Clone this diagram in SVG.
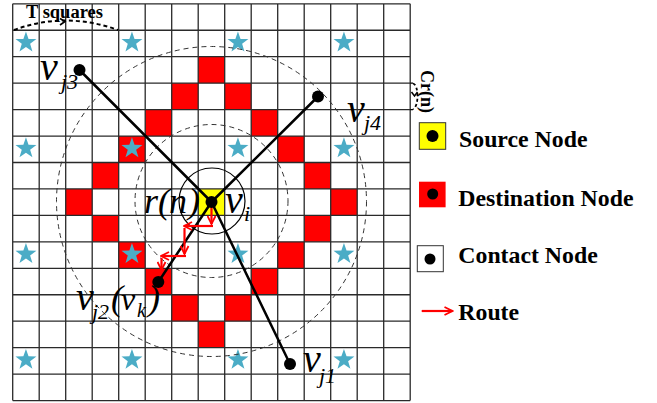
<svg xmlns="http://www.w3.org/2000/svg" width="657" height="403" viewBox="0 0 657 403">
<style>
.grid{fill:none;stroke:#2a2a2a;stroke-width:1.3}
.red{fill:#ff0000}
.star{fill:#4bacc6}
.dash{fill:none;stroke:#333;stroke-width:1;stroke-dasharray:5 4}
.link{stroke:#000;stroke-width:2.5;fill:none}
.dot{fill:#000}
.route{stroke:#ff0000;stroke-width:2.2;fill:none;marker-end:url(#ah)}
.lbl{font-family:"Liberation Serif","Times New Roman",serif;font-style:italic;fill:#000}
.leg{font-family:"Liberation Serif","Times New Roman",serif;font-weight:bold;font-size:23.8px;fill:#000}
.bold{font-family:"Liberation Serif","Times New Roman",serif;font-weight:bold;fill:#000}
</style>
<defs>
<polygon id="st" points="0,-11 2.59,-3.56 10.46,-3.4 4.18,1.36 6.47,8.9 0,4.4 -6.47,8.9 -4.18,1.36 -10.46,-3.4 -2.59,-3.56"/>
<marker id="ah" viewBox="0 0 10 10" refX="9" refY="5" markerWidth="10" markerHeight="10" markerUnits="userSpaceOnUse" orient="auto">
<polyline points="1,1 9,5 1,9" fill="none" stroke="#ff0000" stroke-width="1.8"/>
</marker>
</defs>
<rect width="657" height="403" fill="#fff"/>
<g id="cells">
<rect class="red" x="198.2" y="56.7" width="26.5" height="26.45"/>
<rect class="red" x="171.7" y="83.15" width="26.5" height="26.45"/>
<rect class="red" x="224.7" y="83.15" width="26.5" height="26.45"/>
<rect class="red" x="145.2" y="109.6" width="26.5" height="26.45"/>
<rect class="red" x="251.2" y="109.6" width="26.5" height="26.45"/>
<rect class="red" x="118.7" y="136.05" width="26.5" height="26.45"/>
<rect class="red" x="277.7" y="136.05" width="26.5" height="26.45"/>
<rect class="red" x="92.2" y="162.5" width="26.5" height="26.45"/>
<rect class="red" x="304.2" y="162.5" width="26.5" height="26.45"/>
<rect class="red" x="65.7" y="188.95" width="26.5" height="26.45"/>
<rect class="red" x="330.7" y="188.95" width="26.5" height="26.45"/>
<rect class="red" x="92.2" y="215.4" width="26.5" height="26.45"/>
<rect class="red" x="304.2" y="215.4" width="26.5" height="26.45"/>
<rect class="red" x="118.7" y="241.85" width="26.5" height="26.45"/>
<rect class="red" x="277.7" y="241.85" width="26.5" height="26.45"/>
<rect class="red" x="145.2" y="268.3" width="26.5" height="26.45"/>
<rect class="red" x="251.2" y="268.3" width="26.5" height="26.45"/>
<rect class="red" x="171.7" y="294.75" width="26.5" height="26.45"/>
<rect class="red" x="224.7" y="294.75" width="26.5" height="26.45"/>
<rect class="red" x="198.2" y="321.2" width="26.5" height="26.45"/>
<rect x="198.2" y="188.95" width="26.5" height="26.45" fill="#ffff00"/>
</g>
<g id="grid">
<path class="grid" d="M12.7,3.8V400.55M39.2,3.8V400.55M65.7,3.8V400.55M92.2,3.8V400.55M118.7,3.8V400.55M145.2,3.8V400.55M171.7,3.8V400.55M198.2,3.8V400.55M224.7,3.8V400.55M251.2,3.8V400.55M277.7,3.8V400.55M304.2,3.8V400.55M330.7,3.8V400.55M357.2,3.8V400.55M383.7,3.8V400.55M410.2,3.8V400.55M12.7,3.8H410.2M12.7,30.25H410.2M12.7,56.7H410.2M12.7,83.15H410.2M12.7,109.6H410.2M12.7,136.05H410.2M12.7,162.5H410.2M12.7,188.95H410.2M12.7,215.4H410.2M12.7,241.85H410.2M12.7,268.3H410.2M12.7,294.75H410.2M12.7,321.2H410.2M12.7,347.65H410.2M12.7,374.1H410.2M12.7,400.55H410.2"/>
</g>
<g id="stars">
<use href="#st" class="star" x="25.95" y="42.5"/><use href="#st" class="star" x="131.95" y="42.5"/><use href="#st" class="star" x="237.95" y="42.5"/><use href="#st" class="star" x="343.95" y="42.5"/>
<use href="#st" class="star" x="25.95" y="148.3"/><use href="#st" class="star" x="131.95" y="148.3"/><use href="#st" class="star" x="237.95" y="148.3"/><use href="#st" class="star" x="343.95" y="148.3"/>
<use href="#st" class="star" x="25.95" y="254.1"/><use href="#st" class="star" x="131.95" y="254.1"/><use href="#st" class="star" x="237.95" y="254.1"/><use href="#st" class="star" x="343.95" y="254.1"/>
<use href="#st" class="star" x="25.95" y="359.9"/><use href="#st" class="star" x="131.95" y="359.9"/><use href="#st" class="star" x="237.95" y="359.9"/><use href="#st" class="star" x="343.95" y="359.9"/>
</g>
<g id="ranges">
<circle class="dash" cx="211.5" cy="201.5" r="155"/>
<circle class="dash" cx="211.5" cy="201" r="76.5"/>
<circle cx="212" cy="201" r="33" fill="none" stroke="#000" stroke-width="1.2"/>
</g>
<g id="connectors">
<path class="link" d="M211.5,202L79.5,70M211.5,202L318,96.5M211.5,202L158.3,282M211.5,202L290,364"/>
<path class="route" d="M211.5,206V224"/>
<path class="route" d="M213,226H184"/>
<path class="route" d="M184.5,228V254"/>
<path class="route" d="M186,256H161"/>
<path class="route" d="M161.5,258V270"/>
</g>
<g id="vi"><circle class="dot" cx="211.5" cy="202" r="6"/>
<text class="lbl" font-size="40" x="225" y="213">v</text><text class="lbl" font-size="22" x="244" y="221">i</text>
<text class="lbl" font-size="36" y="213"><tspan x="144">r</tspan><tspan x="158">(</tspan><tspan x="169">n</tspan><tspan x="188">)</tspan></text>
</g>
<g id="vj3"><circle class="dot" cx="79.5" cy="70" r="6"/>
<text class="lbl" font-size="40" x="40" y="80">v</text><text class="lbl" font-size="22" x="61" y="89">j3</text></g>
<g id="vj4"><circle class="dot" cx="318" cy="96.5" r="6"/>
<text class="lbl" font-size="40" x="347" y="121.5">v</text><text class="lbl" font-size="22" x="364" y="130">j4</text></g>
<g id="vj2"><circle class="dot" cx="158.3" cy="282" r="6"/>
<text class="lbl" font-size="40" x="76" y="310">v</text><text class="lbl" font-size="22" x="92" y="319">j2</text>
<text class="lbl" font-size="36" x="111" y="310">(</text><text class="lbl" font-size="32" x="121" y="310">v</text><text class="lbl" font-size="20" x="137" y="317">k</text><text class="lbl" font-size="36" x="148" y="310">)</text></g>
<g id="vj1"><circle class="dot" cx="290" cy="364" r="6"/>
<text class="lbl" font-size="40" x="303" y="371.5">v</text><text class="lbl" font-size="22" x="319" y="383">j1</text></g>
<g id="tsquares">
<path d="M14,30Q65,11 118,30" fill="none" stroke="#000" stroke-width="2" stroke-dasharray="4 3"/>
<path d="M60,18.5L65,21.5L60,25" fill="none" stroke="#000" stroke-width="1.6"/>
<text class="bold" font-size="18.5" x="26" y="18">T squares</text>
</g>
<g id="crn">
<path d="M410.2,83.15H413M410.2,109.6H413" stroke="#000" stroke-width="1.3"/>
<path d="M413,83.5C419,85 419,107 413,109" fill="none" stroke="#000" stroke-width="1.8" stroke-dasharray="3 2.5"/>
<path d="M411.5,92L414.5,96L417.5,92" fill="none" stroke="#000" stroke-width="1.5"/>
<text class="bold" font-size="18" transform="translate(421,70) rotate(90)">Cr(n)</text>
</g>
<g id="legend-source"><rect x="419.3" y="122.7" width="26.4" height="26.6" fill="#ffff00" stroke="#333" stroke-width="1"/><circle class="dot" cx="432.5" cy="136" r="6"/><text class="leg" x="459" y="147.3">Source Node</text></g>
<g id="legend-destination"><rect x="419" y="181.7" width="26.6" height="25.6" fill="#ff0000"/><circle class="dot" cx="432.7" cy="194" r="5.5"/><text class="leg" x="458.3" y="206">Destination Node</text></g>
<g id="legend-contact"><rect x="417.3" y="245.7" width="26" height="26" fill="#fff" stroke="#333" stroke-width="1"/><circle class="dot" cx="430" cy="259" r="5.5"/><text class="leg" x="458.3" y="262.7">Contact Node</text></g>
<g id="legend-route"><path class="route" d="M421.7,311H452.5"/><text class="leg" x="458.3" y="320">Route</text></g>
</svg>
